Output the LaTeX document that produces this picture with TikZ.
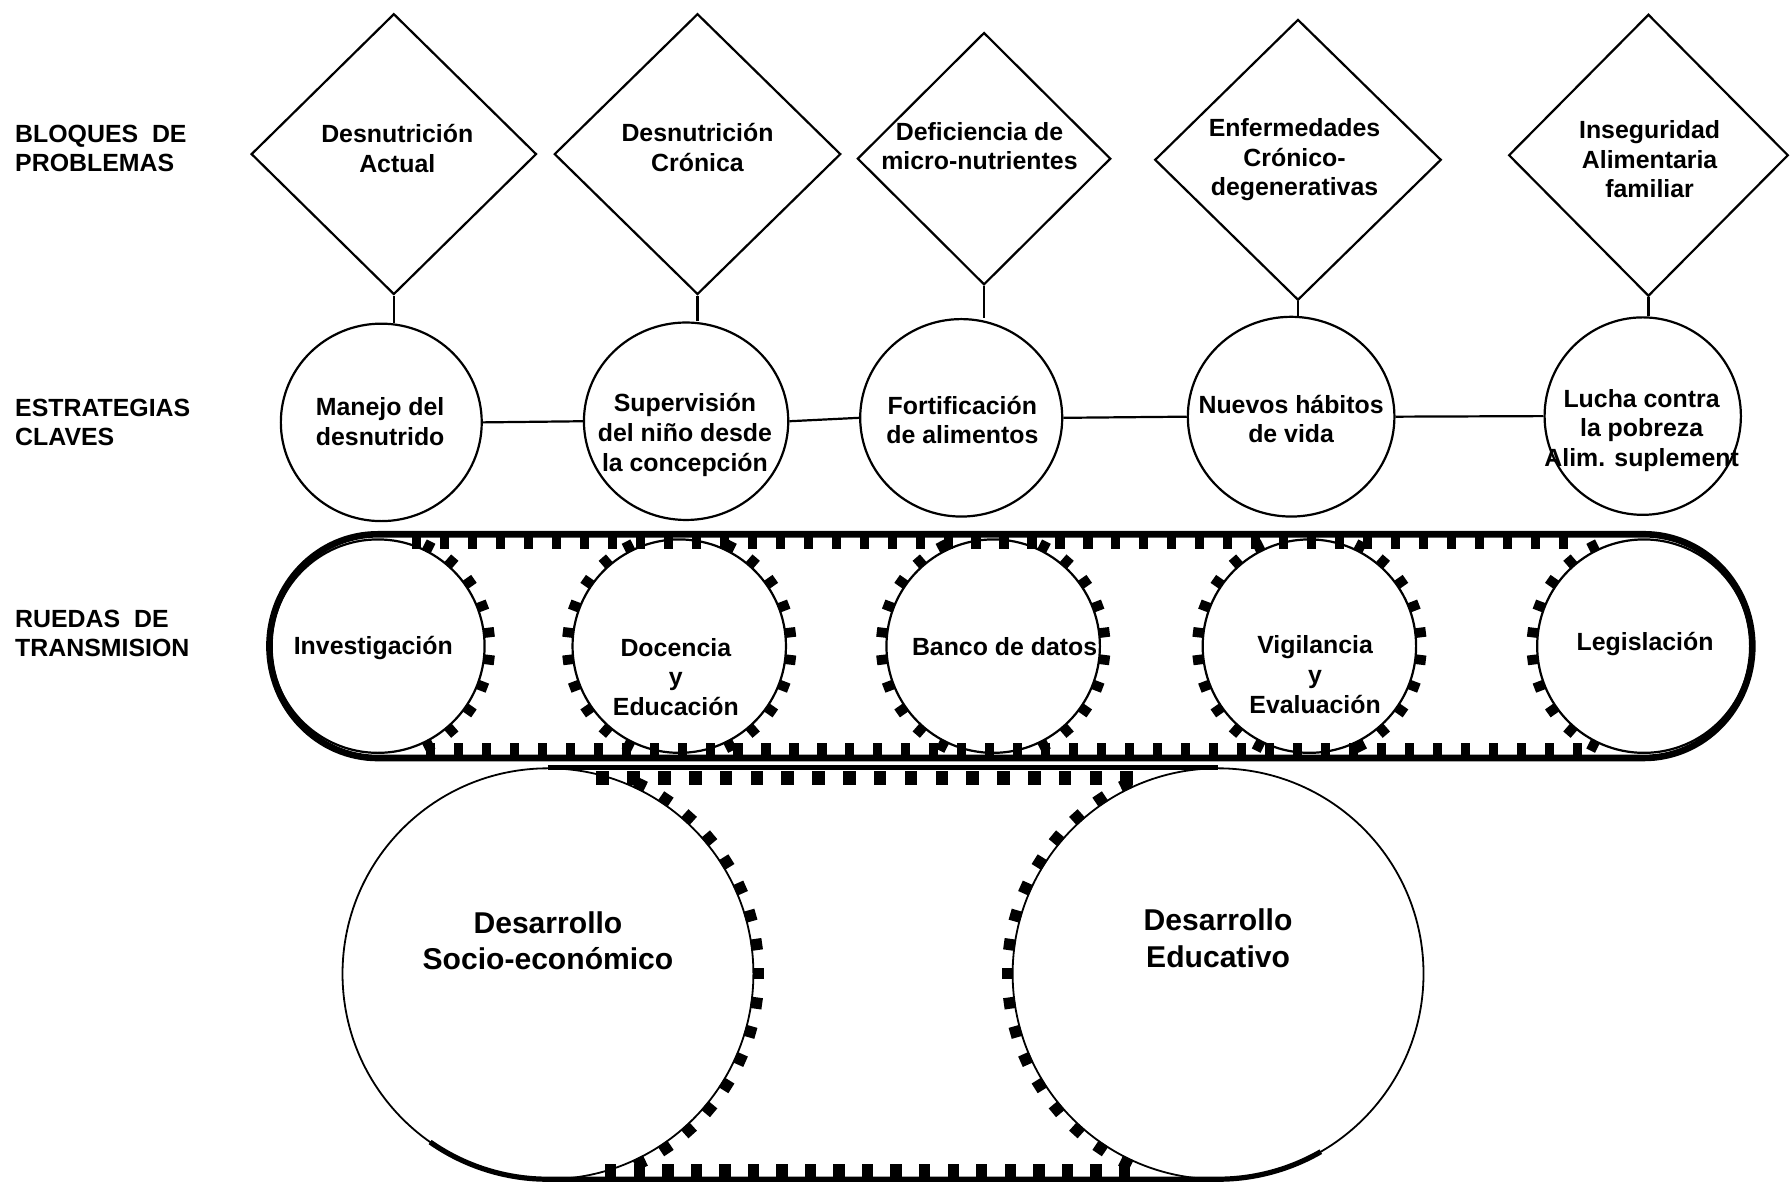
\documentclass[tikz,border=0pt]{standalone}
\usepackage{fontspec}
\setmainfont{Liberation Sans}
\usetikzlibrary{shapes.geometric,calc}
\begin{document}
\begin{tikzpicture}[x=0.02cm,y=-0.02cm,
  txt/.style={font=\fontsize{12.4}{14.8}\selectfont\bfseries, align=center, inner sep=0pt},
  bigtxt/.style={font=\fontsize{15}{18.1}\selectfont\bfseries, align=center, inner sep=0pt},
  rowlbl/.style={txt, align=left, anchor=west},
  dia/.style={diamond, draw, line width=1.1pt, inner sep=0pt},
  strat/.style={ellipse, draw, line width=1.1pt, inner sep=0pt},
  wheel/.style={circle, draw, line width=1.1pt, inner sep=0pt, minimum size=3.74cm},
  bigwheel/.style={circle, draw, line width=0.9pt, inner sep=0pt, minimum size=7.2cm},
  link/.style={line width=1.1pt},
  belt/.style={line width=3.3pt, line join=round},
  beltb/.style={line width=2.6pt, line join=round},
  tooth/.style={fill=black, inner sep=0pt, minimum width=0.19cm, minimum height=0.17cm},
  btooth/.style={fill=black, inner sep=0pt, minimum width=0.2cm, minimum height=0.2cm},
  ]
\useasboundingbox (0,0) rectangle (1568,1040);

% row labels
\node[rowlbl] (L1) at (13,130) {BLOQUES\ \ DE\\PROBLEMAS};
\node[rowlbl] (L2) at (13,370) {ESTRATEGIAS\\CLAVES};
\node[rowlbl] (L3) at (13,555) {RUEDAS\ \ DE\\TRANSMISION};

% diamonds
\node[dia, minimum width=5cm, minimum height=4.92cm] (D1) at (345,135) {};
\node[dia, minimum width=5.02cm, minimum height=4.92cm] (D2) at (611,135) {};
\node[dia, minimum width=4.44cm, minimum height=4.42cm] (D3) at (862,139) {};
\node[dia, minimum width=5.02cm, minimum height=4.92cm] (D4) at (1137,140) {};
\node[dia, minimum width=4.9cm, minimum height=4.94cm] (D5) at (1444,136) {};

\node[txt] (D1t) at (348,130) {Desnutrición\\Actual};
\node[txt] (D2t) at (611,129) {Desnutrición\\Crónica};
\node[txt] (D3t) at (858,128) {Deficiencia de\\micro-nutrientes};
\node[txt] (D4t) at (1134,140) {Enfermedades\\Crónico-\\degenerativas};
\node[txt] (D5t) at (1445,139.5) {Inseguridad\\Alimentaria\\familiar};

% strategy circles
\node[strat, minimum width=3.52cm, minimum height=3.46cm] (C1) at (334,370) {};
\node[strat, minimum width=3.58cm, minimum height=3.46cm] (C2) at (601,369) {};
\node[strat, minimum width=3.54cm, minimum height=3.46cm] (C3) at (842,366) {};
\node[strat, minimum width=3.62cm, minimum height=3.5cm] (C4) at (1131,365) {};
\node[strat, minimum width=3.44cm, minimum height=3.46cm] (C5) at (1439,364.5) {};

\node[txt] (C1t) at (333,369.5) {Manejo del\\desnutrido};
\node[txt] (C2t) at (600,381) {Supervisión\\del niño desde\\la concepción};
\node[txt] (C3t) at (843,368) {Fortificación\\de alimentos};
\node[txt] (C4t) at (1131,367) {Nuevos hábitos\\de vida};
\node[txt] (C5t) at (1438,377) {Lucha contra\\la pobreza\\Alim. suplement};

% connectors
\foreach \i in {1,...,5} {\draw[link] (D\i.south) -- (D\i.south |- C\i.north);}
\draw[link] (C1.east) -- (C2.west);
\draw[link] (C2.east) -- (C3.west);
\draw[link] (C3.east) -- (C4.west);
\draw[link] (C4.east) -- (C5.west);

% transmission wheels
\node[wheel] (W1) at (331,566) {};
\node[wheel] (W2) at (595,566) {};
\node[wheel] (W3) at (870,566) {};
\node[wheel] (W4) at (1147,566) {};
\node[wheel] (W5) at (1440,566) {};

\node[txt] (W1t) at (327,568) {Investigación};
\node[txt] (W2t) at (592,593) {Docencia\\y\\Educación};
\node[txt] (W3t) at (880,566) {Banco de datos};
\node[txt] (W4t) at (1152,591) {Vigilancia\\y\\Evaluación};
\node[txt] (W5t) at (1441,564) {Legislación};

% wheel teeth
\foreach \w in {W1,W2,W3,W4} {
  \foreach \a in {-63,-49,...,63} {\node[tooth, rotate=\a] at ($(\w.center)+(\a:1.96cm)$) {};}
}
\foreach \w in {W2,W3,W4,W5} {
  \foreach \a in {117,131,...,243} {\node[tooth, rotate=\a] at ($(\w.center)+(\a:1.96cm)$) {};}
}

% upper belt
\draw[belt] ($(W1.center)+(0,-98)$) -- ($(W5.center)+(0,-98)$)
  arc[start angle=90, end angle=-90, x radius=1.9cm, y radius=1.96cm]
  -- ($(W1.center)+(0,98)$)
  arc[start angle=270, end angle=90, x radius=1.9cm, y radius=1.96cm] -- cycle;
\foreach \x in {365,389.5,...,1392} {\fill (\x-4,470) rectangle (\x+4,481);}
\foreach \x in {377,401.5,...,1402} {\fill (\x-4,651) rectangle (\x+4,662);}

% big wheels
\node[bigwheel] (BC1) at (480,853) {};
\node[bigwheel] (BC2) at (1067,853) {};
\node[bigtxt] (BC1t) at (480,824) {Desarrollo\\Socio-económico};
\node[bigtxt] (BC2t) at (1067,822) {Desarrollo\\Educativo};

\foreach \a in {-64,-56,...,64} {\node[btooth, rotate=\a] at ($(BC1.center)+(\a:3.69cm)$) {};}
\foreach \a in {116,124,...,244} {\node[btooth, rotate=\a] at ($(BC2.center)+(\a:3.69cm)$) {};}

% lower belt
\draw[beltb] (BC1.north) -- (BC2.north);
\draw[beltb] ($(BC1.center)+(235:3.6cm)$) arc[start angle=235, end angle=270, radius=3.6cm]
  -- ($(BC2.center)+(270:3.6cm)$) arc[start angle=270, end angle=300, radius=3.6cm];
\foreach \x in {528,555,...,995} {\fill (\x-5.5,675) rectangle (\x+5.5,688);}
\foreach \x in {535,560,...,1008} {\fill (\x-5,1020) rectangle (\x+5,1032);}
\end{tikzpicture}
\end{document}
